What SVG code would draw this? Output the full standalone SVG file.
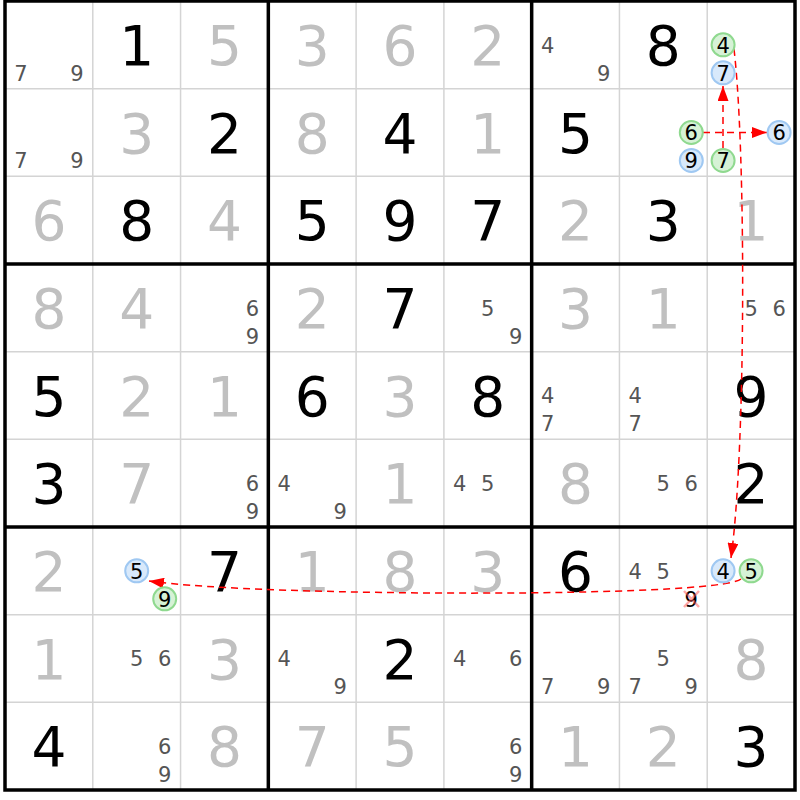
<svg xmlns="http://www.w3.org/2000/svg" width="800" height="800" viewBox="0 0 800 800">
<style>
text{font-family:"DejaVu Sans","Liberation Sans",sans-serif;text-anchor:middle}
.g{font-size:55px;fill:#000}
.s{font-size:55px;fill:#c0c0c0}
.c{font-size:21px;fill:#555}
.h{font-size:21px;fill:#000}
.thin{stroke:#d4d4d4;stroke-width:1.5}
.thick{stroke:#000;stroke-width:3.5}
.cg{fill:#d6f2d6;stroke:#8fd98f;stroke-width:2}
.cb{fill:#d8e9fb;stroke:#9fc8f2;stroke-width:2}
.ln{fill:none;stroke:#f00;stroke-width:1.5;stroke-dasharray:7,5}
</style>
<defs>
<marker id="ah" markerUnits="userSpaceOnUse" markerWidth="15" markerHeight="11" viewBox="0 0 15 11" refX="15" refY="5.5" orient="auto">
<path d="M0,0 L15,5.5 L0,11 z" fill="#f00"/>
</marker>
</defs>
<rect x="0" y="0" width="800" height="800" fill="#fff"/>
<g id="grid">
<g class="thin">
<line x1="92.78" y1="1" x2="92.78" y2="790"/><line x1="180.56" y1="1" x2="180.56" y2="790"/>
<line x1="356.11" y1="1" x2="356.11" y2="790"/><line x1="443.89" y1="1" x2="443.89" y2="790"/>
<line x1="619.44" y1="1" x2="619.44" y2="790"/><line x1="707.22" y1="1" x2="707.22" y2="790"/>
<line x1="5" y1="88.67" x2="795" y2="88.67"/><line x1="5" y1="176.33" x2="795" y2="176.33"/>
<line x1="5" y1="351.67" x2="795" y2="351.67"/><line x1="5" y1="439.33" x2="795" y2="439.33"/>
<line x1="5" y1="614.67" x2="795" y2="614.67"/><line x1="5" y1="702.33" x2="795" y2="702.33"/>
</g>
<g class="thick">
<line x1="268.33" y1="1" x2="268.33" y2="790"/><line x1="531.67" y1="1" x2="531.67" y2="790"/>
<line x1="5" y1="264" x2="795" y2="264"/><line x1="5" y1="527" x2="795" y2="527"/>
<rect x="5" y="1" width="790" height="789" fill="none"/>
</g>
</g>
<g id="values">
<text class="c" x="20.9" y="80.5">7</text><text class="c" x="76.9" y="80.5">9</text>
<text class="g" x="136.7" y="64.8">1</text><text class="s" x="224.4" y="64.8">5</text>
<text class="s" x="312.2" y="64.8">3</text><text class="s" x="400" y="64.8">6</text><text class="s" x="487.8" y="64.8">2</text>
<text class="c" x="547.6" y="52.5">4</text><text class="c" x="603.6" y="80.5">9</text>
<text class="g" x="663.3" y="64.8">8</text>

<text class="c" x="20.9" y="168.2">7</text><text class="c" x="76.9" y="168.2">9</text>
<text class="s" x="136.7" y="152.5">3</text><text class="g" x="224.4" y="152.5">2</text>
<text class="s" x="312.2" y="152.5">8</text><text class="g" x="400" y="152.5">4</text><text class="s" x="487.8" y="152.5">1</text>
<text class="g" x="575.6" y="152.5">5</text>

<text class="s" x="48.9" y="240.2">6</text><text class="g" x="136.7" y="240.2">8</text><text class="s" x="224.4" y="240.2">4</text>
<text class="g" x="312.2" y="240.2">5</text><text class="g" x="400" y="240.2">9</text><text class="g" x="487.8" y="240.2">7</text>
<text class="s" x="575.6" y="240.2">2</text><text class="g" x="663.3" y="240.2">3</text><text class="s" x="751.1" y="240.2">1</text>

<text class="s" x="48.9" y="327.8">8</text><text class="s" x="136.7" y="327.8">4</text>
<text class="c" x="252.4" y="315.5">6</text><text class="c" x="252.4" y="343.5">9</text>
<text class="s" x="312.2" y="327.8">2</text><text class="g" x="400" y="327.8">7</text>
<text class="c" x="487.8" y="315.5">5</text><text class="c" x="515.8" y="343.5">9</text>
<text class="s" x="575.6" y="327.8">3</text><text class="s" x="663.3" y="327.8">1</text>
<text class="c" x="751.1" y="315.5">5</text><text class="c" x="779.1" y="315.5">6</text>

<text class="g" x="48.9" y="415.5">5</text><text class="s" x="136.7" y="415.5">2</text><text class="s" x="224.4" y="415.5">1</text>
<text class="g" x="312.2" y="415.5">6</text><text class="s" x="400" y="415.5">3</text><text class="g" x="487.8" y="415.5">8</text>
<text class="c" x="547.6" y="403.2">4</text><text class="c" x="547.6" y="431.2">7</text>
<text class="c" x="635.3" y="403.2">4</text><text class="c" x="635.3" y="431.2">7</text>
<text class="g" x="751.1" y="415.5">9</text>

<text class="g" x="48.9" y="503.2">3</text><text class="s" x="136.7" y="503.2">7</text>
<text class="c" x="252.4" y="490.9">6</text><text class="c" x="252.4" y="518.9">9</text>
<text class="c" x="284.2" y="490.9">4</text><text class="c" x="340.2" y="518.9">9</text>
<text class="s" x="400" y="503.2">1</text>
<text class="c" x="459.8" y="490.9">4</text><text class="c" x="487.8" y="490.9">5</text>
<text class="s" x="575.6" y="503.2">8</text>
<text class="c" x="663.3" y="490.9">5</text><text class="c" x="691.3" y="490.9">6</text>
<text class="g" x="751.1" y="503.2">2</text>

<text class="s" x="48.9" y="590.8">2</text><text class="g" x="224.4" y="590.8">7</text>
<text class="s" x="312.2" y="590.8">1</text><text class="s" x="400" y="590.8">8</text><text class="s" x="487.8" y="590.8">3</text>
<text class="g" x="575.6" y="590.8">6</text>
<text class="c" x="635.3" y="578.5">4</text><text class="c" x="663.3" y="578.5">5</text>

<text class="s" x="48.9" y="678.5">1</text>
<text class="c" x="136.7" y="666.2">5</text><text class="c" x="164.7" y="666.2">6</text>
<text class="s" x="224.4" y="678.5">3</text>
<text class="c" x="284.2" y="666.2">4</text><text class="c" x="340.2" y="694.2">9</text>
<text class="g" x="400" y="678.5">2</text>
<text class="c" x="459.8" y="666.2">4</text><text class="c" x="515.8" y="666.2">6</text>
<text class="c" x="547.6" y="694.2">7</text><text class="c" x="603.6" y="694.2">9</text>
<text class="c" x="663.3" y="666.2">5</text><text class="c" x="635.3" y="694.2">7</text><text class="c" x="691.3" y="694.2">9</text>
<text class="s" x="751.1" y="678.5">8</text>

<text class="g" x="48.9" y="766.2">4</text>
<text class="c" x="164.7" y="753.9">6</text><text class="c" x="164.7" y="781.9">9</text>
<text class="s" x="224.4" y="766.2">8</text>
<text class="s" x="312.2" y="766.2">7</text><text class="s" x="400" y="766.2">5</text>
<text class="c" x="515.8" y="753.9">6</text><text class="c" x="515.8" y="781.9">9</text>
<text class="s" x="575.6" y="766.2">1</text><text class="s" x="663.3" y="766.2">2</text><text class="g" x="751.1" y="766.2">3</text>
</g>
<g id="connectors">
<path class="ln" d="M734,49 C746,150 746,450 731,558" marker-end="url(#ah)"/>
<path class="ln" d="M723,148 L723,86" marker-end="url(#ah)"/>
<path class="ln" d="M703,132.5 L767,132.5" marker-end="url(#ah)"/>
<path class="ln" d="M741,579 C718,598 260,597 149,581" marker-end="url(#ah)"/>
</g>
<g id="n-r1c9-4"><circle class="cg" cx="723.1" cy="44.8" r="11.5"/><text class="h" x="723.1" y="52.5">4</text></g>
<g id="n-r1c9-7"><circle class="cb" cx="723.1" cy="72.8" r="11.5"/><text class="h" x="723.1" y="80.5">7</text></g>
<g id="n-r2c8-6"><circle class="cg" cx="691.3" cy="132.5" r="11.5"/><text class="h" x="691.3" y="140.2">6</text></g>
<g id="n-r2c8-9"><circle class="cb" cx="691.3" cy="160.5" r="11.5"/><text class="h" x="691.3" y="168.2">9</text></g>
<g id="n-r2c9-6"><circle class="cb" cx="779.1" cy="132.5" r="11.5"/><text class="h" x="779.1" y="140.2">6</text></g>
<g id="n-r2c9-7"><circle class="cg" cx="723.1" cy="160.5" r="11.5"/><text class="h" x="723.1" y="168.2">7</text></g>
<g id="n-r7c2-5"><circle class="cb" cx="136.7" cy="570.8" r="11.5"/><text class="h" x="136.7" y="578.5">5</text></g>
<g id="n-r7c2-9"><circle class="cg" cx="164.7" cy="598.8" r="11.5"/><text class="h" x="164.7" y="606.5">9</text></g>
<g id="n-r7c9-4"><circle class="cb" cx="723.1" cy="570.8" r="11.5"/><text class="h" x="723.1" y="578.5">4</text></g>
<g id="n-r7c9-5"><circle class="cg" cx="751.1" cy="570.8" r="11.5"/><text class="h" x="751.1" y="578.5">5</text></g>
<g id="n-r7c8-9"><text class="h" x="691.3" y="606.5">9</text>
<path d="M684,591 L699,607 M699,591 L684,607" stroke="#ff5050" stroke-opacity="0.5" stroke-width="2.5" fill="none"/></g>
</svg>
